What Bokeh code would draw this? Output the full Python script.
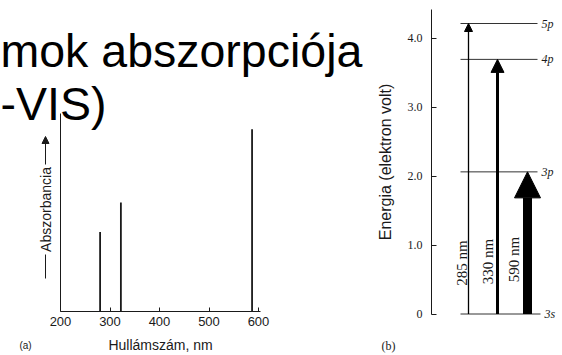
import math
from bokeh.plotting import figure
from bokeh.models import (Range1d, LinearAxis, FixedTicker, Label, Arrow, NormalHead,
                          ColumnDataSource)
from bokeh.core.properties import value
from bokeh.embed import file_html
from bokeh.resources import INLINE

# ---------------- data ----------------
title_line1 = "mok abszorpciója"
title_line2 = "-VIS)"

# panel (a): absorption spectrum
wavelengths_nm = [280, 322, 587]
absorbance = [0.40, 0.55, 0.92]
wl_ticks = [200, 300, 400, 500, 600]
xlabel_a = "Hullámszám, nm"
ylabel_a = "Abszorbancia"

# panel (b): energy levels
level_names = ["3s", "3p", "4p", "5p"]
level_energy_ev = [0.0, 2.06, 3.69, 4.21]
transition_nm = ["285 nm", "330 nm", "590 nm"]
transition_upper_ev = [4.21, 3.69, 2.06]
energy_ticks = [0, 1, 2, 3, 4]
energy_tick_labels = ["0", "1.0", "2.0", "3.0", "4.0"]
ylabel_b = "Energia (elektron volt)"

# ---------------- layout (pixels) ----------------
W, H = 562, 355
INK = "#1a1a1a"
SANS = "Liberation Sans"
SERIF = "Liberation Serif"

# panel a mapping: px = 60 + (wl-200)*0.495 ; y_px = 310.5 - a*197.5
ax0, kx = 60.0, 0.495
ay0, ky = 310.5, 197.5
# panel b mapping: y_px = 313.5 - 69*E
by0, kyb = 313.5, 69.0
b_axis_x = 431
level_x0, level_x1 = [460, 460, 460, 460], [540, 537, 537, 537]
arrow_x = [468, 497, 527]
arrow_w = [1.3, 3.0, 9.0]
arrow_head = [8, 13, 26]
trans_label_x = [461, 487, 513]
trans_label_ev = [0.74, 0.76, 0.79]

p = figure(width=W, height=H, x_range=Range1d(0, W), y_range=Range1d(H, 0),
           x_axis_type=None, y_axis_type=None, min_border=0,
           toolbar_location=None, output_backend="svg")
p.outline_line_color = None
p.background_fill_color = "white"
p.border_fill_color = "white"

p.extra_x_ranges = {"wl": Range1d(200 - ax0 / kx, 200 + (W - ax0) / kx)}
p.extra_y_ranges = {
    "abs": Range1d((ay0 - H) / ky, ay0 / ky),
    "E": Range1d((by0 - H) / kyb, by0 / kyb),
}

# ---------- title ----------
p.add_layout(Label(x=0, y=50, text=title_line1, text_font=SANS,
                   text_font_size="46.5px", text_color="#000000",
                   text_baseline="alphabetic"))
p.add_layout(Label(x=0, y=103, text=title_line2, text_font=SANS,
                   text_font_size="46.5px", text_color="#000000",
                   text_baseline="alphabetic"))

# ---------- panel (a) ----------
xa = LinearAxis(x_range_name="wl", y_range_name="abs", fixed_location=0,
                bounds=(200, 604), ticker=FixedTicker(ticks=wl_ticks),
                axis_label=xlabel_a)
xa.major_tick_in = 4
xa.major_tick_out = 0
xa.minor_tick_in = 0
xa.minor_tick_out = 0
xa.axis_line_color = INK
xa.major_tick_line_color = INK
xa.major_label_text_font = SANS
xa.major_label_text_font_size = "13px"
xa.major_label_text_color = INK
xa.major_label_standoff = 6
xa.axis_label_text_font = SANS
xa.axis_label_text_font_size = "14px"
xa.axis_label_text_font_style = "normal"
xa.axis_label_text_color = INK
xa.axis_label_standoff = 7
p.add_layout(xa, "below")

ya = LinearAxis(x_range_name="wl", y_range_name="abs", fixed_location=200,
                bounds=(0, 1), ticker=FixedTicker(ticks=[]))
ya.major_tick_in = 0
ya.major_tick_out = 0
ya.minor_tick_in = 0
ya.minor_tick_out = 0
ya.major_label_text_font_size = "0px"
ya.axis_line_color = INK
p.add_layout(ya, "left")

src_a = ColumnDataSource(dict(wl=wavelengths_nm, top=absorbance,
                              base=[0] * len(wavelengths_nm)))
p.segment(x0="wl", x1="wl", y0="base", y1="top", source=src_a,
          x_range_name="wl", y_range_name="abs", line_color=INK, line_width=1.8)

# vertical label with arrow
lab_x, lab_y = 45, 209
p.add_layout(Label(x=lab_x, y=lab_y, text=ylabel_a, angle=math.pi / 2,
                   text_font=SANS, text_font_size="14px", text_color=INK,
                   text_align="center", text_baseline="middle"))
p.add_layout(Arrow(x_start=lab_x, y_start=164, x_end=lab_x, y_end=136,
                   line_width=1, line_color=INK,
                   end=NormalHead(size=7, fill_color=INK, line_color=INK)))
p.segment(x0=[lab_x], x1=[lab_x], y0=[254], y1=[278], line_color=INK, line_width=1)

p.add_layout(Label(x=25, y=345, text="(a)", text_font=SANS,
                   text_font_size="10px", text_color=INK,
                   text_align="center", text_baseline="middle"))

# ---------- panel (b) ----------
yb = LinearAxis(y_range_name="E", fixed_location=b_axis_x, bounds=(0, 4.42),
                ticker=FixedTicker(ticks=energy_ticks),
                major_label_overrides={t: s for t, s in zip(energy_ticks, energy_tick_labels)},
                axis_label=ylabel_b)
yb.major_tick_in = 5
yb.major_tick_out = 0
yb.minor_tick_in = 0
yb.minor_tick_out = 0
yb.axis_line_color = INK
yb.major_tick_line_color = INK
yb.major_label_text_font = SERIF
yb.major_label_text_font_size = "12px"
yb.major_label_text_color = INK
yb.major_label_standoff = 9
yb.axis_label_text_font = SANS
yb.axis_label_text_font_size = "16px"
yb.axis_label_text_font_style = "normal"
yb.axis_label_text_color = INK
yb.axis_label_standoff = 11
p.add_layout(yb, "left")

src_lv = ColumnDataSource(dict(x0=level_x0, x1=level_x1, e=level_energy_ev,
                               name=level_names,
                               lx=[x + 4 for x in level_x1]))
p.segment(x0="x0", x1="x1", y0="e", y1="e", source=src_lv, y_range_name="E",
          line_color="#333333", line_width=1)
p.text(x="lx", y="e", text="name", source=src_lv, y_range_name="E",
       text_font=value(SERIF), text_font_style="italic", text_font_size="12px",
       text_color=INK, text_baseline="middle", text_align="left")

for xx, top, lw, hs in zip(arrow_x, transition_upper_ev, arrow_w, arrow_head):
    p.add_layout(Arrow(x_start=xx, y_start=0, x_end=xx, y_end=top, y_range_name="E",
                       line_width=lw, line_color="#000000",
                       end=NormalHead(size=hs, fill_color="#000000",
                                      line_color="#000000", line_width=1)))

src_tr = ColumnDataSource(dict(x=trans_label_x, y=trans_label_ev, t=transition_nm))
p.text(x="x", y="y", text="t", source=src_tr, y_range_name="E", angle=math.pi / 2,
       text_font=value(SERIF), text_font_size="15px", text_color=INK,
       text_align="center", text_baseline="middle")

p.add_layout(Label(x=388, y=345, text="(b)", text_font=SERIF,
                   text_font_size="12px", text_color=INK,
                   text_align="center", text_baseline="middle"))

open("out.html", "w").write(file_html(p, INLINE))
